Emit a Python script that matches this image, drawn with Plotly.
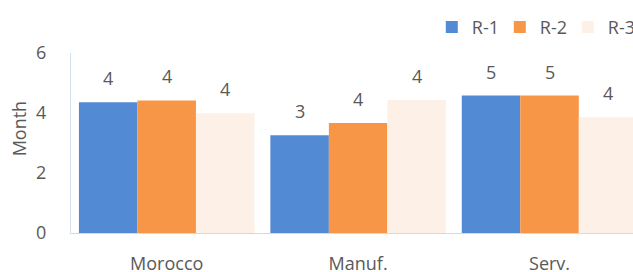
import plotly.graph_objects as go

categories = ["Morocco", "Manuf.", "Serv."]
series_names = ["R-1", "R-2", "R-3"]
r1 = [4.36, 3.26, 4.58]
r2 = [4.42, 3.67, 4.58]
r3 = [3.99, 4.43, 3.86]
series_values = [r1, r2, r3]
colors = ["#528BD4", "#F79646", "#FDF0E7"]
y_ticks = [0, 2, 4, 6]

FONT = "Open Sans"
GREY = "#595959"
bargap = 0.083
n = len(series_names)
bw = (1 - bargap) / n

fig = go.Figure()
annotations = []
for j, (name, vals, col) in enumerate(zip(series_names, series_values, colors)):
    xs = [i + (j - (n - 1) / 2) * bw for i in range(len(categories))]
    fig.add_trace(go.Bar(
        x=xs, y=vals, width=bw, name=name,
        marker=dict(color=col, line=dict(width=0)),
        hoverinfo="y",
    ))
    for x, v in zip(xs, vals):
        annotations.append(dict(
            x=x, y=v, xref="x", yref="y", text=str(round(v)),
            showarrow=False, yanchor="middle", yshift=24,
            font=dict(family=FONT, size=18, color=GREY),
        ))

annotations.append(dict(
    x=-0.092, y=0.583, xref="paper", yref="paper", text="Month",
    textangle=-90, showarrow=False, xanchor="center", yanchor="middle",
    font=dict(family=FONT, size=18, color=GREY),
))

fig.update_layout(
    width=633, height=272,
    margin=dict(l=71, r=0, t=53, b=39, autoexpand=False),
    paper_bgcolor="white", plot_bgcolor="white",
    showlegend=True,
    legend=dict(
        orientation="h", x=0.642, y=1.245, xanchor="left", yanchor="top",
        font=dict(family=FONT, size=18, color=GREY),
        bgcolor="rgba(0,0,0,0)", traceorder="normal",
        itemwidth=30, entrywidth=23, entrywidthmode="pixels",
    ),
    annotations=annotations,
    font=dict(family=FONT, size=18, color=GREY),
)
fig.update_xaxes(
    range=[-0.5, 2.436],
    tickmode="array", tickvals=list(range(len(categories))), ticktext=categories,
    showgrid=False, zeroline=False,
    showline=True, linecolor="#D9D9D9", linewidth=1,
    ticks="", ticklabelstandoff=14,
    tickfont=dict(family=FONT, size=18, color=GREY),
)
fig.update_yaxes(
    range=[0, 6], tickvals=y_ticks,
    showgrid=False, zeroline=False,
    showline=True, linecolor="#D5E0EE", linewidth=1,
    ticks="", ticklabelstandoff=20,
    tickfont=dict(family=FONT, size=18, color=GREY),
)

# remove the browser's default 8px page margin so the figure fills the window
fig.write_html(
    "out.html",
    config={"displayModeBar": False},
    post_script="document.body.style.margin='0';document.body.style.overflow='hidden';",
)
